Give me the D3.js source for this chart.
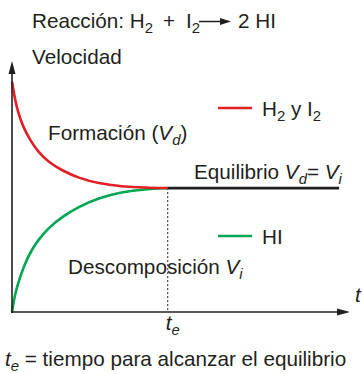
<!DOCTYPE html>
<html>
<head>
<meta charset="utf-8">
<script src="https://cdn.jsdelivr.net/npm/d3@7"></script>
<style>
  body { margin: 0; background: #fff; }
  svg text { font-family: "Liberation Sans", Arial, sans-serif; fill: #231f20; }
</style>
</head>
<body>
<div id="chart"></div>
<script>
// curves (t = time units, v = velocity units)
const tRed = [0, 0.1, 0.2, 0.36, 0.58, 0.84, 1.17, 1.6, 2.13, 2.77, 3.52, 4.27, 5];
const vRed = [10, 9.2, 8.64, 8.03, 7.47, 6.95, 6.51, 6.15, 5.82, 5.58, 5.45, 5.4, 5.38];
const tGreen = [0, 0.1, 0.26, 0.42, 0.63, 0.84, 1.17, 1.6, 2.13, 2.77, 3.52, 4.27, 5];
const vGreen = [0, 0.83, 1.52, 2.13, 2.69, 3.13, 3.65, 4.13, 4.56, 4.95, 5.21, 5.33, 5.38];
const tEq = [5, 10.5];
const vEq = 5.38;
const te = 5;

const width = 362, height = 374;
const red = "#e31e26", green = "#00a651", ink = "#231f20";

const svg = d3.select("#chart").append("svg")
  .attr("width", width).attr("height", height);

const x = d3.scaleLinear().domain([0, 10.85]).range([12, 350]);
const y = d3.scaleLinear().domain([0, 10.9]).range([312, 61]);

const line = d3.line().x(d => x(d[0])).y(d => y(d[1])).curve(d3.curveBasis);

// dashed te marker
svg.append("line")
  .attr("x1", x(te)).attr("x2", x(te))
  .attr("y1", y(vEq)).attr("y2", y(0))
  .attr("stroke", ink).attr("stroke-width", 1).attr("stroke-dasharray", "2,2");

// curves
svg.append("path").datum(d3.zip(tGreen, vGreen)).attr("d", line)
  .attr("fill", "none").attr("stroke", green).attr("stroke-width", 2.6);
svg.append("path").datum(d3.zip(tRed, vRed)).attr("d", line)
  .attr("fill", "none").attr("stroke", red).attr("stroke-width", 2.6);
svg.append("line")
  .attr("x1", x(tEq[0])).attr("x2", x(tEq[1]))
  .attr("y1", y(vEq)).attr("y2", y(vEq))
  .attr("stroke", ink).attr("stroke-width", 2.6);

// axes with arrow heads
const x0 = x(0), y0 = y(0), xEnd = x.range()[1], yEnd = y.range()[1];
svg.append("line").attr("x1", x0).attr("x2", x0).attr("y1", y0 + 1).attr("y2", yEnd + 8)
  .attr("stroke", ink).attr("stroke-width", 1.6);
svg.append("line").attr("x1", x0 - 1).attr("x2", xEnd - 8).attr("y1", y0).attr("y2", y0)
  .attr("stroke", ink).attr("stroke-width", 1.6);
svg.append("path")
  .attr("d", `M${x0},${yEnd} L${x0 - 3.5},${yEnd + 13} L${x0 + 3.5},${yEnd + 13} Z`)
  .attr("fill", ink);
svg.append("path")
  .attr("d", `M${xEnd},${y0} L${xEnd - 13},${y0 - 3.5} L${xEnd - 13},${y0 + 3.5} Z`)
  .attr("fill", ink);

// text helper: parts = [text, style] where style: "" normal, "i" italic, "s" subscript, "is" italic subscript
function label(px, py, parts, size) {
  const t = svg.append("text").attr("x", px).attr("y", py).style("font-size", size + "px");
  let shifted = false;
  parts.forEach(([s, st]) => {
    const sp = t.append("tspan").text(s);
    if (st.includes("i")) sp.style("font-style", "italic");
    if (st.includes("s")) {
      sp.style("font-size", (size * 0.72) + "px");
      if (!shifted) { sp.attr("dy", size * 0.26); shifted = true; }
    } else if (shifted) {
      sp.attr("dy", -size * 0.26); shifted = false;
    }
  });
  return t;
}

const fs = 20.7;
// title pieces
label(32, 28, [["Reacción: H", ""], ["2", "s"]], fs);
label(163, 28, [["+", ""]], fs).style("font-weight", 300);
label(186, 28, [["I", ""], ["2", "s"]], fs);
svg.append("line").attr("x1", 199).attr("x2", 223).attr("y1", 21.5).attr("y2", 21.5)
  .attr("stroke", ink).attr("stroke-width", 1.5);
svg.append("path").attr("d", "M231,21.5 L220,18 L220,25 Z").attr("fill", ink);
label(238, 28, [["2 HI", ""]], fs);

label(32, 64, [["Velocidad", ""]], fs);
label(48, 140, [["Formación (", ""], ["V", "i"], ["d", "is"], [")", ""]], fs);
label(194, 179, [["Equilibrio ", ""], ["V", "i"], ["d", "is"], ["= ", ""], ["V", "i"], ["i", "is"]], fs);
label(68, 274, [["Descomposición ", ""], ["V", "i"], ["i", "is"]], fs);
label(262, 116, [["H", ""], ["2", "s"], [" y I", ""], ["2", "s"]], fs);
label(262, 244, [["HI", ""]], fs);
label(355, 302, [["t", "i"]], fs);
label(x(te) - 2, 330, [["t", "i"], ["e", "is"]], fs);
label(5, 366, [["t", "i"], ["e", "is"], [" = tiempo para alcanzar el equilibrio", ""]], fs);

// legend swatches
svg.append("line").attr("x1", 218).attr("x2", 252).attr("y1", 108).attr("y2", 108)
  .attr("stroke", red).attr("stroke-width", 2.6);
svg.append("line").attr("x1", 218).attr("x2", 252).attr("y1", 236).attr("y2", 236)
  .attr("stroke", green).attr("stroke-width", 2.6);
</script>
</body>
</html>
